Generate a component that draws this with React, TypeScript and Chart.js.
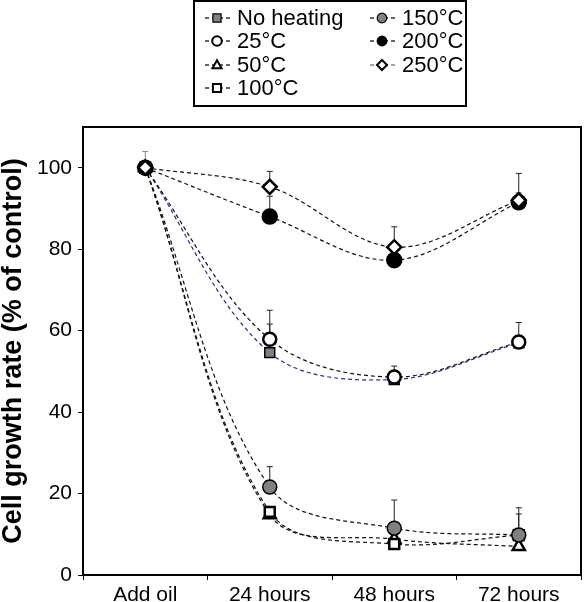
import React, { useEffect, useRef } from "react";
import { Chart, registerables } from "chart.js";

Chart.register(...registerables);

const categories = ["Add oil", "24 hours", "48 hours", "72 hours"];
const seriesNames = ["No heating", "25°C", "50°C", "100°C", "150°C", "200°C", "250°C"];

const noHeating = [100, 54.6, 48.0, 57.0];
const c25 = [100, 57.9, 48.6, 57.2];
const c50 = [100, 14.8, 8.8, 7.0];
const c100 = [100, 15.5, 7.6, 9.8];
const c150 = [100, 21.6, 11.5, 9.8];
const c200 = [100, 88.0, 77.3, 91.5];
const c250 = [100, 95.3, 80.5, 92.0];

const errNoHeating = [4, 7.0, 0, 0];
const err25 = [0, 7.1, 2.7, 4.8];
const err50 = [0, 0, 0, 0];
const err100 = [0, 0, 0, 5.2];
const err150 = [0, 5.0, 6.9, 6.7];
const err200 = [0, 5.0, 0, 2.3];
const err250 = [0, 3.8, 5.0, 6.6];

const yTicks = [0, 20, 40, 60, 80, 100];

type Style = {
  shape: string;
  fill: string;
  lw: number;
  r: number;
  line: string;
};

const styles: Style[] = [
  { shape: "rect", fill: "#808080", lw: 1.5, r: 7, line: "#2b2b7a" },
  { shape: "circle", fill: "#ffffff", lw: 2.5, r: 6.5, line: "#111111" },
  { shape: "triangle", fill: "#ffffff", lw: 2.5, r: 7, line: "#111111" },
  { shape: "rect", fill: "#ffffff", lw: 2.5, r: 7, line: "#111111" },
  { shape: "circle", fill: "#808080", lw: 1.5, r: 7, line: "#111111" },
  { shape: "circle", fill: "#000000", lw: 1.5, r: 7.5, line: "#111111" },
  { shape: "rectRot", fill: "#ffffff", lw: 2.5, r: 7, line: "#111111" },
];

const values = [noHeating, c25, c50, c100, c150, c200, c250];
const errors = [errNoHeating, err25, err50, err100, err150, err200, err250];

function drawMarker(ctx: CanvasRenderingContext2D, shape: string, x: number, y: number, r: number, fill: string, lw: number) {
  ctx.save();
  ctx.beginPath();
  if (shape === "circle") {
    ctx.arc(x, y, r, 0, Math.PI * 2);
  } else if (shape === "rect") {
    const s = r * 0.85;
    ctx.rect(x - s, y - s, 2 * s, 2 * s);
  } else if (shape === "triangle") {
    ctx.moveTo(x, y - r);
    ctx.lineTo(x + r * 0.95, y + r * 0.7);
    ctx.lineTo(x - r * 0.95, y + r * 0.7);
    ctx.closePath();
  } else if (shape === "rectRot") {
    ctx.moveTo(x, y - r);
    ctx.lineTo(x + r, y);
    ctx.lineTo(x, y + r);
    ctx.lineTo(x - r, y);
    ctx.closePath();
  }
  ctx.fillStyle = fill;
  ctx.fill();
  ctx.lineWidth = lw;
  ctx.strokeStyle = "#000";
  ctx.stroke();
  ctx.restore();
}

const FONT = "Arial, 'Liberation Sans', sans-serif";

const overlayPlugin = {
  id: "overlay",
  beforeDatasetsDraw(chart: any) {
    const ctx = chart.ctx as CanvasRenderingContext2D;
    const xs = chart.scales.x;
    const ys = chart.scales.y;
    ctx.save();
    errors.forEach((errs, si) => {
      errs.forEach((e, i) => {
        if (!e) return;
        const x = xs.getPixelForValue(i);
        const y0 = ys.getPixelForValue(values[si][i]);
        const y1 = ys.getPixelForValue(values[si][i] + e);
        ctx.strokeStyle = i === 0 ? "#888888" : "#222222";
        ctx.lineWidth = 1;
        ctx.beginPath();
        ctx.moveTo(x, y0);
        ctx.lineTo(x, y1);
        ctx.moveTo(x - 3, y1);
        ctx.lineTo(x + 3, y1);
        ctx.stroke();
      });
    });
    ctx.restore();
  },
  afterDraw(chart: any) {
    const ctx = chart.ctx as CanvasRenderingContext2D;
    const a = chart.chartArea;
    ctx.save();
    ctx.strokeStyle = "#000";
    ctx.lineWidth = 2;
    ctx.strokeRect(a.left, a.top, a.right - a.left, a.bottom - a.top);

    ctx.save();
    ctx.translate(14, (a.top + a.bottom) / 2);
    ctx.rotate(-Math.PI / 2);
    ctx.fillStyle = "#000";
    ctx.font = `bold 27px ${FONT}`;
    ctx.textAlign = "center";
    ctx.textBaseline = "middle";
    ctx.fillText("Cell growth rate (% of control)", 0, 0);
    ctx.restore();

    ctx.lineWidth = 2;
    ctx.strokeRect(194, 1, 272, 105);
    const rowsY = [18, 41, 65, 88];
    const pos = [
      [205, rowsY[0]],
      [205, rowsY[1]],
      [205, rowsY[2]],
      [205, rowsY[3]],
      [370, rowsY[0]],
      [370, rowsY[1]],
      [370, rowsY[2]],
    ];
    seriesNames.forEach((name, i) => {
      const [x0, y] = pos[i];
      const st = styles[i];
      ctx.save();
      ctx.strokeStyle = i === 6 ? "#888" : "#333";
      ctx.lineWidth = 1.5;
      ctx.setLineDash([4, 3]);
      ctx.beginPath();
      ctx.moveTo(x0, y);
      ctx.lineTo(x0 + 26, y);
      ctx.stroke();
      ctx.restore();
      drawMarker(ctx, st.shape, x0 + 12, y, st.shape === "rectRot" ? 5 : 4.8, st.fill, st.lw > 2 ? 2 : 1.2);
      ctx.fillStyle = "#000";
      ctx.font = `22px ${FONT}`;
      ctx.textAlign = "left";
      ctx.textBaseline = "middle";
      ctx.fillText(name, x0 + 32, y + 1);
    });
    ctx.restore();
  },
};

export default function App() {
  const ref = useRef<HTMLCanvasElement | null>(null);

  useEffect(() => {
    document.body.style.margin = "0";
    if (!ref.current) return;
    const datasets = values.map((v, i) => {
      const st = styles[i];
      return {
        label: seriesNames[i],
        data: v,
        borderColor: st.line,
        borderWidth: 1.2,
        borderDash: [4, 3],
        tension: 0.35,
        pointStyle: st.shape,
        pointRadius: st.r,
        pointBackgroundColor: st.fill,
        pointBorderColor: "#000",
        pointBorderWidth: st.lw,
        fill: false,
        order: 6 - i,
      };
    });
    const chart = new Chart(ref.current, {
      type: "line",
      data: { labels: categories, datasets },
      options: {
        animation: false,
        responsive: false,
        devicePixelRatio: 1,
        layout: { autoPadding: false, padding: { top: 127, right: 3, left: 0, bottom: 0 } },
        plugins: { legend: { display: false }, tooltip: { enabled: false } },
        scales: {
          x: {
            type: "category",
            offset: true,
            grid: { display: true, drawOnChartArea: false, drawTicks: true, tickLength: 5, color: "#000", offset: true },
            border: { display: true, color: "#000", width: 2 },
            ticks: { color: "#000", font: { size: 21, family: FONT }, padding: 3, maxRotation: 0 },
            afterFit: (s: any) => {
              s.height = 27;
              s.paddingLeft = 0;
              s.paddingRight = 0;
            },
          },
          y: {
            min: 0,
            max: 110,
            grid: { display: true, drawOnChartArea: false, drawTicks: true, tickLength: 5, color: "#000" },
            border: { display: true, color: "#000", width: 2 },
            afterBuildTicks: (s: any) => {
              s.ticks = yTicks.map((v) => ({ value: v }));
            },
            ticks: { color: "#000", font: { size: 21, family: FONT }, padding: 6 },
            afterFit: (s: any) => {
              s.width = 83;
              s.paddingTop = 0;
              s.paddingBottom = 0;
            },
          },
        },
      },
      plugins: [overlayPlugin],
    } as any);
    return () => chart.destroy();
  }, []);

  return (
    <div style={{ width: 584, height: 602 }}>
      <canvas ref={ref} width={584} height={602} style={{ display: "block" }} />
    </div>
  );
}
